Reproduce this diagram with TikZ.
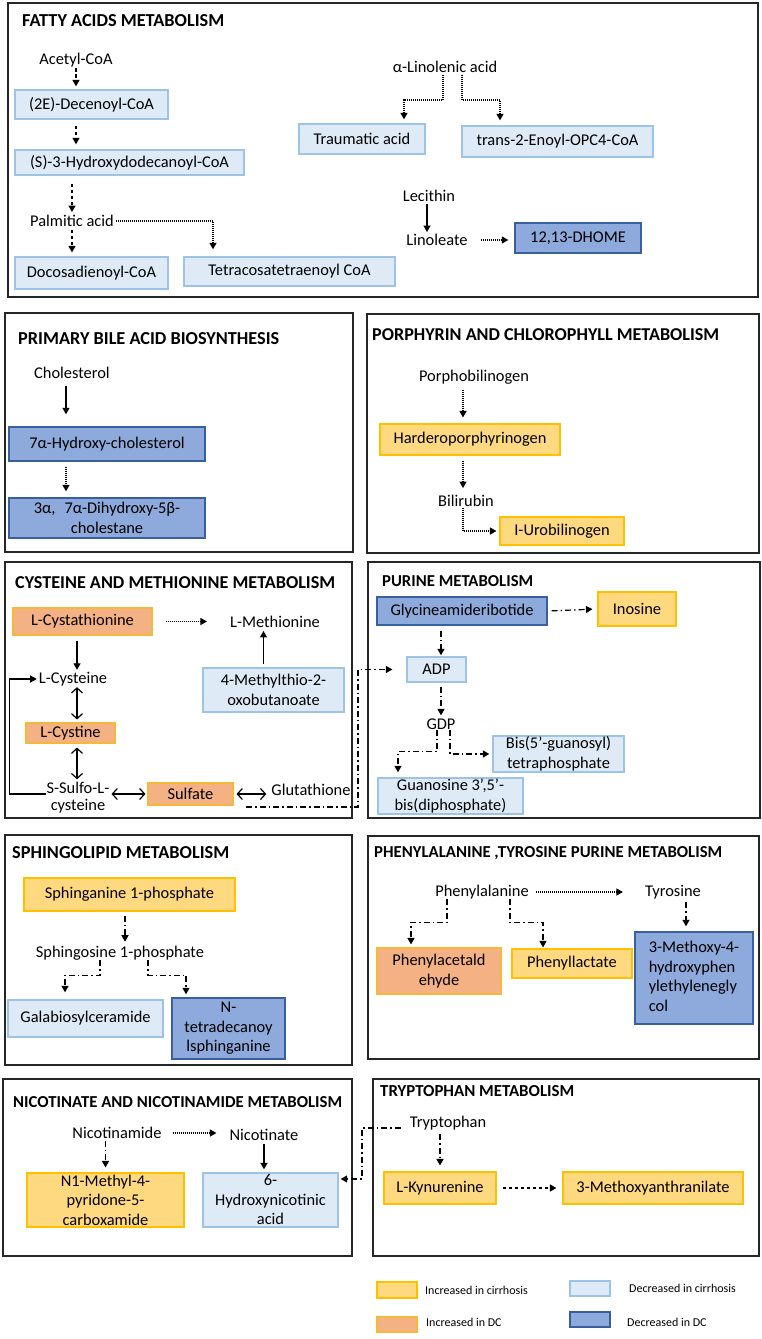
\documentclass[tikz,border=0pt]{standalone}
\usepackage{fontspec}
\setmainfont{Carlito}
\usetikzlibrary{arrows.meta}
\definecolor{lbf}{HTML}{DEEBF7}
\definecolor{lbd}{HTML}{9DC3E6}
\definecolor{dbf}{HTML}{8EA9DB}
\definecolor{dbd}{HTML}{3A5F9E}
\definecolor{ylf}{HTML}{FFD97F}
\definecolor{yld}{HTML}{FFC000}
\definecolor{orf}{HTML}{F4B183}
\definecolor{ord}{HTML}{F5B83A}
\newcommand\bx[7]{\node[#6, minimum width={#4-#2}, minimum height={#5-#3}, inner sep=0pt, align=center] (#1) at ({(#2+#4)/2},{(#3+#5)/2}) {#7};}
\newcommand\ttl[5]{\node[anchor=west, inner sep=0pt] (#1) at (#2,#3) {\resizebox{#4pt}{!}{\bfseries #5}};}
\begin{document}
\begin{tikzpicture}[x=1pt,y=-1pt,
  every node/.style={font=\fontsize{16.4}{19.5}\selectfont},
  lbb/.style={draw=lbd, fill=lbf, line width=1.3pt},
  dbb/.style={draw=dbd, fill=dbf, line width=1.3pt},
  ylb/.style={draw=yld, fill=ylf, line width=1.1pt},
  orb/.style={draw=ord, fill=orf, line width=1.1pt},
  panel/.style={draw=black!85, line width=1.4pt},
  lbl/.style={inner sep=0pt},
  tip/.style={-{Triangle[length=6.5pt,width=7pt]}},
  sol/.style={tip, line width=1.2pt},
  dsh/.style={tip, line width=1.3pt, dash pattern=on 3.5pt off 2.5pt},
  dot/.style={tip, line width=1.2pt, dash pattern=on 1pt off 1pt},
  dd/.style={tip, line width=1.2pt, dash pattern=on 6pt off 3pt on 1.5pt off 3pt},
  dbl/.style={line width=1.2pt, {Straight Barb[length=5pt,width=11pt]}-{Straight Barb[length=5pt,width=11pt]}},
  leg/.style={anchor=west, inner sep=0pt, font=\fontsize{12}{14}\selectfont}
]
\useasboundingbox[fill=white] (0,0) rectangle (762,1339);

% ---------- panels ----------
\draw[panel] (8,3) rectangle (758,297);
\draw[panel] (5,313) rectangle (353,552);
\draw[panel] (367,314) rectangle (759,553);
\draw[panel] (5,562) rectangle (352,818);
\draw[panel] (368,562) rectangle (760,818);
\draw[panel] (5,835) rectangle (352,1065);
\draw[panel] (368,836) rectangle (759,1059);
\draw[panel] (3,1079) rectangle (352,1256);
\draw[panel] (373,1079) rectangle (759,1256);

\ttl{t1}{22}{21}{202}{FATTY ACIDS METABOLISM}
\ttl{t2}{18}{339}{261}{PRIMARY BILE ACID BIOSYNTHESIS}
\ttl{t3}{372}{335}{347}{PORPHYRIN AND CHLOROPHYLL METABOLISM}
\ttl{t4}{15}{583}{320}{CYSTEINE AND METHIONINE METABOLISM}
\ttl{t5}{382}{581}{151}{PURINE METABOLISM}
\ttl{t6}{12}{853}{217}{SPHINGOLIPID METABOLISM}
\ttl{t7}{374}{853}{348}{PHENYLALANINE ,TYROSINE PURINE METABOLISM}
\ttl{t8}{13}{1102}{329}{NICOTINATE AND NICOTINAMIDE METABOLISM}
\ttl{t9}{380}{1091}{194}{TRYPTOPHAN METABOLISM}

% ---------- fatty acids ----------
\node[lbl] (acetyl) at (76,60) {Acetyl-CoA};
\bx{dec}{15}{90}{168}{119}{lbb}{(2E)-Decenoyl-CoA}
\bx{hyd}{15}{150}{244}{175}{lbb}{(S)-3-Hydroxydodecanoyl-CoA}
\node[lbl] (palm) at (72,221) {Palmitic acid};
\bx{doco}{15}{257}{168}{289}{lbb}{Docosadienoyl-CoA}
\bx{tetra}{184}{257}{395}{286}{lbb}{Tetracosatetraenoyl CoA}
\draw[dsh, shorten <=1pt, shorten >=3pt] (acetyl.south) -- (acetyl.south |- dec.north);
\draw[dsh, shorten <=6pt, shorten >=5pt] (dec.south -| acetyl) -- (hyd.north -| acetyl);
\draw[dsh, shorten <=8pt, shorten >=3pt] (hyd.south -| palm) -- (palm.north);
\draw[dsh, shorten <=3pt, shorten >=4pt] (palm.south) -- (palm.south |- doco.north);
\draw[dot, shorten <=2pt, shorten >=7pt] (palm.east) -| ([xshift=-76.5pt]tetra.north);

\node[lbl] (lin) at (445,67) {α-Linolenic acid};
\bx{traum}{299}{124}{425}{154}{lbb}{Traumatic acid}
\bx{opc}{462}{126}{653}{157}{lbb}{trans-2-Enoyl-OPC4-CoA}
\draw[dot, shorten <=2pt, shorten >=4pt] ([xshift=-2pt]lin.south) |- (404,100) -- (traum.north -| 404,0);
\draw[dot, shorten <=2pt, shorten >=5pt] ([xshift=17pt]lin.south) |- (500,100) -- (opc.north -| 500,0);

\node[lbl] (lec) at (429,196) {Lecithin};
\node[lbl] (lino) at (437,240) {Linoleate};
\bx{dhome}{515}{223}{641}{253}{dbb}{12,13-DHOME}
\draw[sol, shorten <=2pt, shorten >=2pt] ([xshift=-2pt]lec.south) -- ([xshift=-2pt]lec.south |- lino.north);
\draw[dot, shorten <=13pt, shorten >=6pt] (lino.east) -- (lino.east -| dhome.west);

% ---------- bile acid ----------
\node[lbl] (chol) at (72,373) {Cholesterol};
\bx{hyc}{9}{427}{205}{461}{dbb}{7α-Hydroxy-cholesterol}
\bx{dihy}{9}{498}{205}{538}{dbb}{3α,\hspace{9pt}7α-Dihydroxy-5β-\\cholestane}
\draw[sol, shorten <=7pt, shorten >=12pt] ([xshift=-6pt]chol.south) -- ([xshift=-6pt]chol.south |- hyc.north);
\draw[dot, shorten <=5pt, shorten >=6pt] (hyc.south -| 66,0) -- (dihy.north -| 66,0);

% ---------- porphyrin ----------
\node[lbl] (porph) at (474,377) {Porphobilinogen};
\bx{hard}{380}{424}{560}{455}{ylb}{Harderoporphyrinogen}
\node[lbl] (bil) at (466,501) {Bilirubin};
\bx{uro}{500}{517}{624}{545}{ylb}{I-Urobilinogen}
\draw[dot, shorten <=6pt, shorten >=6pt] ([xshift=-11pt]porph.south) -- ([xshift=-11pt]porph.south |- hard.north);
\draw[dot, shorten <=5pt, shorten >=7pt] (hard.south -| 463,0) -- (bil.north -| 463,0);
\draw[dot, shorten <=1pt, shorten >=3pt] ([xshift=-3pt]bil.south) |- (uro.west);

% ---------- cysteine ----------
\bx{cysta}{13}{608}{152}{635}{orb}{L-Cystathionine}
\node[lbl] (meth) at (275,622) {L-Methionine};
\bx{mtob}{203}{668}{344}{712}{lbb}{4-Methylthio-2-\\oxobutanoate}
\node[lbl] (lcys) at (73,679) {L-Cysteine};
\bx{cystine}{26}{723}{115}{743}{orb}{L-Cystine}
\node[lbl, align=center, font=\fontsize{16.4}{17}\selectfont] (sulfo) at (78,798) {S-Sulfo-L-\\cysteine};
\bx{sulf}{148}{783}{233}{805}{orb}{Sulfate}
\node[lbl] (glut) at (311,790) {Glutathione};
\draw[dot, shorten <=13pt, shorten >=23pt] (cysta.east) -- (cysta.east -| meth.west);
\draw[sol, shorten <=3pt, shorten >=3pt] ([xshift=-10pt]mtob.north) -- ([xshift=-10pt]mtob.north |- meth.south);
\draw[sol, shorten <=5pt, shorten >=2pt] (cysta.south -| 77,0) -- (lcys.north -| 77,0);
\draw[dbl, shorten <=1pt, shorten >=3pt] (lcys.south -| 77,0) -- (cystine.north -| 77,0);
\draw[dbl, shorten <=4pt, shorten >=3pt] (cystine.south -| 77,0) -- (sulfo.north -| 77,0);
\draw[sol, shorten >=2pt] ([yshift=4pt]sulfo.west) -- ++(-37,0) |- (lcys.west);
\draw[dbl, shorten <=2pt, shorten >=2pt] (sulf.west -| sulfo.east) -- (sulf.west);
\draw[dbl, shorten <=3pt, shorten >=5pt] (sulf.east) -- (sulf.east -| glut.west);

% ---------- purine ----------
\bx{gly}{377}{597}{547}{625}{dbb}{Glycineamideribotide}
\bx{ino}{598}{592}{676}{626}{ylb}{Inosine}
\bx{adp}{407}{657}{466}{682}{lbb}{ADP}
\node[lbl] (gdp) at (441,724) {GDP};
\bx{bis}{493}{736}{624}{772}{lbb}{Bis(5'-guanosyl)\\tetraphosphate}
\bx{guan}{378}{778}{523}{814}{lbb}{Guanosine 3',5'-\\bis(diphosphate)}
\draw[dd, shorten <=4pt, shorten >=5pt] (gly.east) -- (ino.west);
\draw[dd, shorten <=5pt, shorten >=1pt] ([xshift=4.5pt]adp.north |- gly.south) -- ([xshift=4.5pt]adp.north);
\draw[dd, shorten <=4pt, shorten >=3pt] ([xshift=4.5pt]adp.south) -- (gdp.north);
\draw[dd, shorten >=5pt] ([xshift=-4pt]gdp.south) -- ++(0,22) -| ([xshift=-52.5pt]guan.north);
\draw[dd, shorten >=3pt] ([xshift=9pt]gdp.south) |- (bis.west);
\coordinate (g0) at (246,807);
\draw[dd, shorten >=14pt] (g0) -- (358,807) |- (adp.west);

% ---------- sphingolipid ----------
\bx{s1p}{24}{878}{235}{911}{ylb}{Sphinganine 1-phosphate}
\node[lbl] (so1p) at (120,953) {Sphingosine 1-phosphate};
\bx{gal}{8}{1000}{163}{1037}{lbb}{Galabiosylceramide}
\bx{ntet}{172}{998}{285}{1059}{dbb}{N-\\tetradecanoy\\lsphinganine}
\draw[dd, shorten <=4pt, shorten >=4pt] ([xshift=-4.5pt]s1p.south) -- ([xshift=-4.5pt]s1p.south |- so1p.north);
\draw[dd, shorten >=7pt] ([xshift=-20pt]so1p.south) -- ++(0,15) -| ([xshift=-20.5pt]gal.north);
\draw[dd, shorten >=3pt] ([xshift=28pt]so1p.south) -- ++(0,15) -| ([xshift=-42.5pt]ntet.north);

% ---------- phenylalanine ----------
\node[lbl] (phe) at (482,892) {Phenylalanine};
\node[lbl] (tyr) at (673,892) {Tyrosine};
\bx{mhpg}{635}{932}{753}{1024}{dbb}{\begin{tabular}{@{}l@{}}3-Methoxy-4-\\hydroxyphen\\ylethylenegly\\col\end{tabular}}
\bx{pald}{377}{948}{501}{994}{orb}{Phenylacetald\\ehyde}
\bx{plac}{512}{949}{632}{978}{ylb}{Phenyllactate}
\draw[dot, shorten <=7pt, shorten >=22pt] (phe.east) -- (tyr.west);
\draw[dd, shorten <=3pt, shorten >=5pt] ([xshift=-8pt]mhpg.north |- tyr.south) -- ([xshift=-8pt]mhpg.north);
\draw[dd, shorten >=3pt] ([xshift=-35pt]phe.south) -- ++(0,23) -| ([xshift=-28pt]pald.north);
\draw[dd, shorten >=1pt] ([xshift=28pt]phe.south) -- ++(0,23) -| ([xshift=-29pt]plac.north);

% ---------- nicotinate ----------
\node[lbl] (nam) at (117,1133) {Nicotinamide};
\node[lbl] (nat) at (264,1135) {Nicotinate};
\bx{n1m}{27}{1173}{184}{1227}{ylb}{N1-Methyl-4-\\pyridone-5-\\carboxamide}
\bx{hna}{203}{1173}{338}{1227}{lbb}{6-\\Hydroxynicotinic\\acid}
\draw[dot, shorten <=11pt, shorten >=13pt] (nam.east) -- (nam.east -| nat.west);
\draw[sol, shorten <=3pt, shorten >=3pt] (nat.south) -- (nat.south |- hna.north);
\draw[dd, shorten <=2pt, shorten >=5pt] (n1m.north |- nam.south) -- (n1m.north);

% ---------- tryptophan ----------
\node[lbl] (tryp) at (448,1123) {Tryptophan};
\bx{kyn}{384}{1172}{496}{1204}{ylb}{L-Kynurenine}
\bx{mant}{563}{1172}{743}{1204}{ylb}{3-Methoxyanthranilate}
\draw[dd, shorten <=4pt, shorten >=6pt] (kyn.north |- tryp.south) -- (kyn.north);
\draw[dsh, shorten <=6pt, shorten >=6pt] (kyn.east) -- (mant.west);
\draw[dd, shorten <=9pt, shorten >=2pt] ([yshift=-5pt]tryp.west) -- (362,1128) |- ([yshift=21pt]hna.east);

% ---------- legend ----------
\bx{k1}{377}{1282}{417}{1298}{ylb}{}
\bx{k2}{570}{1281}{610}{1296}{lbb}{}
\bx{k3}{377}{1317}{417}{1332}{orb}{}
\bx{k4}{570}{1312}{610}{1327}{dbb}{}
\node[leg] (l1) at (425,1290) {Increased in cirrhosis};
\node[leg] (l2) at (629,1288) {Decreased in cirrhosis};
\node[leg] (l3) at (426,1322) {Increased in DC};
\node[leg] (l4) at (627,1322) {Decreased in DC};
\end{tikzpicture}
\end{document}
